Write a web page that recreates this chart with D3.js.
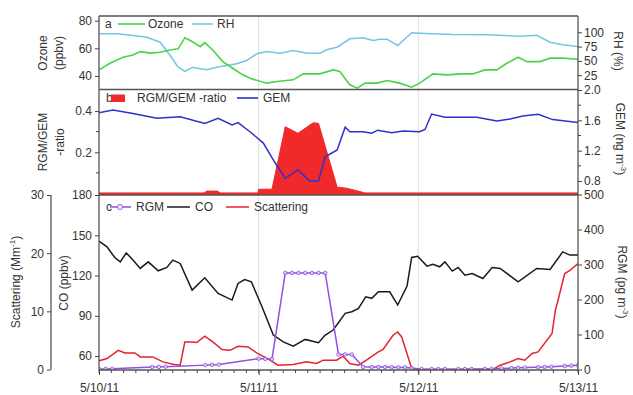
<!DOCTYPE html>
<html>
<head>
<meta charset="utf-8">
<script src="https://cdn.jsdelivr.net/npm/d3@7"></script>
<style>
  html, body { margin: 0; padding: 0; background: #fff; }
  svg { display: block; font-family: Arial, "Liberation Sans", sans-serif; }
  .tick text { fill: #333; font-size: 12px; }
  .tick line { stroke: #444; }
</style>
</head>
<body>
<svg id="chart" width="633" height="395"></svg>
<script>
// Hours after 5/10/11 00:00 and the measured values for each series.
const dayLabels = ["5/10/11", "5/11/11", "5/12/11", "5/13/11"];

const ozoneHours = [0,1.65,3.6,5.1,6.2,7.7,9.2,10.7,11.9,12.9,14.0,15.2,15.9,17.1,18.6,20.1,21.6,23.1,25.2,26.8,29.2,30.7,33.2,35.2,36.2,37.7,38.8,40.0,41.8,43.3,45.2,47.0,48.2,50.2,52.3,54.3,56.2,58.0,59.8,61.3,63.0,64.3,66.3,67.8,69.7,72];
const ozone = [44.4,49.2,53.6,55.2,57.6,56.5,57.2,58.8,59.6,67.7,64.9,61.2,64.1,58.8,50.4,45.6,40.8,37.7,34.8,36.0,37.2,41.5,41.5,44.4,43.2,33.6,31.2,34.8,34.8,36.7,34.8,31.9,34.8,41.5,40.8,41.5,41.5,44.4,44.4,49.2,53.6,50.4,50.4,52.9,52.9,52.1];

const rhHours = [0,2.7,5.1,7.2,9.2,10.7,11.9,12.9,14.1,15.2,16.2,17.7,19.2,20.7,22.2,23.7,25.2,27.2,29.2,31.3,33.2,34.3,35.8,37.7,39.7,41.2,42.2,43.3,44.9,47.0,48.2,53.2,58.3,63.3,65.8,67.8,69.7,72];
const rh = [97.3,97.3,94.4,91.4,82.7,59.4,39.0,31.5,39.0,36.2,34.4,39.0,42.0,44.9,50.7,62.4,66.4,63.5,68.2,63.5,63.5,69.9,73.9,88.6,90.4,85.7,87.9,87.9,76.9,99.1,98.5,96.1,95.6,93.2,94.9,82.7,78.1,75.2];

const ratioHours = [0,15.8,16.2,17.8,18.2,23.9,24.0,26.0,28.0,29.9,32.2,33.0,35.8,37.2,38.7,40.0,72];
const ratio = [0.003,0.003,0.012,0.012,0.003,0.003,0.021,0.021,0.324,0.292,0.343,0.340,0.031,0.026,0.014,0.003,0.003];

const gemHours = [0,2.1,5.1,8.7,12.2,15.9,17.9,20.0,20.9,22.7,24.7,26.4,28.0,29.9,31.7,33.0,34.0,35.8,37.0,37.7,39.7,41.0,41.9,44.0,45.7,48.2,49.0,50.0,52.0,56.8,59.8,61.8,63.7,66.0,68.2,72];
const gem = [1.70,1.736,1.69,1.627,1.648,1.56,1.627,1.54,1.57,1.45,1.30,1.05,0.835,0.945,0.80,0.80,1.12,1.21,1.51,1.45,1.45,1.43,1.47,1.437,1.459,1.45,1.48,1.683,1.64,1.64,1.59,1.617,1.657,1.68,1.61,1.57];

const coHours = [0,1.2,2.4,3.2,4.1,5.1,6.2,7.4,8.9,10.2,11.1,12.2,14.0,15.9,17.9,20.0,20.9,21.9,22.9,24.5,26.2,27.7,29.2,31.0,33.0,34.0,35.2,37.0,38.0,39.0,40.1,41.0,42.0,43.7,44.9,46.3,47.0,47.9,49.3,50.2,51.2,52.0,53.1,54.0,55.0,56.1,57.7,59.1,60.3,63.0,65.8,67.8,69.7,70.8,72];
const co = [145.6,141.4,133.2,130.2,136.9,131.5,125.3,130.2,123.5,126.0,131.5,129.0,109.1,118.3,106.7,101.7,114.1,117.0,115.3,96.7,75.6,70.6,67.4,72.4,69.9,75.6,79.4,91.8,93.0,95.5,104.1,103.0,107.9,107.9,98.0,112.1,133.5,134.4,127.0,128.3,126.5,130.2,123.3,126.0,120.3,121.5,117.8,126.0,125.3,115.3,125.3,124.5,137.6,135.2,135.2];

const scatHours = [0,1.2,2.9,3.9,5.4,6.2,8.1,9.6,11.1,12.2,12.9,14.0,14.7,15.9,17.1,18.5,19.7,20.9,22.4,23.7,25.7,26.9,29.2,31.2,32.7,33.7,35.7,36.7,37.7,39.0,40.2,42.0,42.7,44.2,44.9,45.5,47.0,48.2,53.0,59.2,60.3,61.8,63.0,64.0,65.1,66.0,68.1,68.6,69.0,70.0,70.8,72];
const scattering = [1.48,1.89,3.3,2.85,2.85,2.16,2.16,1.31,0.91,0.74,4.74,4.74,4.64,5.72,4.74,3.44,3.3,4.0,3.88,2.85,1.6,0.74,0.86,1.31,1.03,1.6,1.6,2.29,1.03,0.74,1.6,3.02,3.44,5.89,6.46,5.6,0.17,0.0,0.0,0.0,0.74,1.31,1.89,1.6,2.75,3.02,6.18,10.2,11.9,16.5,17.06,18.2];

const rgmHours = [0,1,2,8,9,10,16,17,18,24,25,26,28,29,30,31,32,33,34,36,37,38,39.7,41,42,43,44,45,46,47,48.5,50,51,52,54,55,56,58,59,60.5,62,63,64,66,67,68,70,71,72];
const rgm = [1,1.5,2,7,7.5,8,12.5,13.5,14,31,30.5,29.5,276,276,276,276,276,276,276,43,43,43,7.5,7,7,7,6.5,6,6,4,1,1,1,1,1,1,1.5,1.5,2,3,4,5,5.5,6.5,7,8,10,11,12];

// ---------------------------------------------------------------------------
const svg = d3.select("#chart");
const left = 99, right = 578;
const pa = [89.5, 16], pb = [195, 89.5], pc = [370, 195];

const start = new Date(2011, 4, 10);
const T = h => new Date(start.getTime() + h * 3600e3);
const pts = (hs, vs) => hs.map((h, i) => [T(h), vs[i]]);

const x = d3.scaleTime().domain([start, T(72)]).range([left, right]);

const yOzone = d3.scaleLinear().domain([30.2, 83.4]).range(pa);
const yRH = d3.scaleLinear().domain([0, 128.5]).range(pa);
const yRatio = d3.scaleLinear().domain([-0.007, 0.504]).range(pb);
const yGEM = d3.scaleLinear().domain([0.615, 2.007]).range(pb);
const yCO = d3.scaleLinear().domain([49.6, 180]).range(pc);
const yScat = d3.scaleLinear().domain([0, 30]).range([369.5, 195]);
const yRGM = d3.scaleLinear().domain([0, 500]).range([369.5, 194.5]);

const C = {
  ozone: "#48d448", rh: "#72c6e6", ratio: "#f02a2a", gem: "#3030c8",
  co: "#1a1a1a", scat: "#e4232e", rgm: "#9050e0", frame: "#555"
};

// clip paths per panel
const defs = svg.append("defs");
[["clipA", pa], ["clipB", pb], ["clipC", pc]].forEach(([id, r]) => {
  defs.append("clipPath").attr("id", id).append("rect")
    .attr("x", left).attr("y", r[1]).attr("width", right - left).attr("height", r[0] - r[1]);
});

// day gridlines
const days = [0, 24, 48, 72].map(T);
svg.append("g").selectAll("line").data(days.slice(1, 3)).join("line")
  .attr("x1", d => x(d)).attr("x2", d => x(d)).attr("y1", 16).attr("y2", 370)
  .attr("stroke", "#dcdcdc").attr("stroke-width", 1);

function line(sx, sy) {
  return d3.line().x(d => sx(d[0])).y(d => sy(d[1]));
}

// Panel a: ozone and relative humidity
const gA = svg.append("g").attr("clip-path", "url(#clipA)");
gA.append("path").datum(pts(rhHours, rh)).attr("d", line(x, yRH))
  .attr("fill", "none").attr("stroke", C.rh).attr("stroke-width", 1.5);
gA.append("path").datum(pts(ozoneHours, ozone)).attr("d", line(x, yOzone))
  .attr("fill", "none").attr("stroke", C.ozone).attr("stroke-width", 1.6);

// Panel b: RGM/GEM ratio area and GEM
const gB = svg.append("g").attr("clip-path", "url(#clipB)");
gB.append("path").datum(pts(ratioHours, ratio))
  .attr("d", d3.area().x(d => x(d[0])).y0(pb[0]).y1(d => yRatio(d[1])))
  .attr("fill", C.ratio).attr("stroke", C.ratio).attr("stroke-width", 1);
gB.append("path").datum(pts(gemHours, gem)).attr("d", line(x, yGEM))
  .attr("fill", "none").attr("stroke", C.gem).attr("stroke-width", 1.5);

// Panel c: CO, scattering, RGM
const gC = svg.append("g").attr("clip-path", "url(#clipC)");
gC.append("path").datum(pts(coHours, co)).attr("d", line(x, yCO))
  .attr("fill", "none").attr("stroke", C.co).attr("stroke-width", 1.5);
gC.append("path").datum(pts(scatHours, scattering)).attr("d", line(x, yScat))
  .attr("fill", "none").attr("stroke", C.scat).attr("stroke-width", 1.5);
const rgmPts = pts(rgmHours, rgm);
gC.append("path").datum(rgmPts).attr("d", line(x, yRGM))
  .attr("fill", "none").attr("stroke", C.rgm).attr("stroke-width", 1.5);
gC.append("g").selectAll("circle").data(rgmPts).join("circle")
  .attr("cx", d => x(d[0])).attr("cy", d => yRGM(d[1])).attr("r", 1.8)
  .attr("fill", "#fff").attr("fill-opacity", 0.6).attr("stroke", C.rgm).attr("stroke-width", 0.9);

// frame and panel separators
const frame = svg.append("g").attr("stroke", C.frame).attr("stroke-width", 1.3);
[16, 89.5, 195, 370].forEach(y => frame.append("line")
  .attr("x1", left).attr("x2", right).attr("y1", y).attr("y2", y));
[left, right].forEach(xx => frame.append("line")
  .attr("x1", xx).attr("x2", xx).attr("y1", 16).attr("y2", 370));

function styleAxis(g) {
  g.select(".domain").remove();
  g.selectAll(".tick line").attr("stroke", "#444");
  g.selectAll(".tick text").attr("fill", "#333").style("font-size", "12px");
}
function minorTicks(g, scale, values, side, xx, len) {
  g.append("g").selectAll("line").data(values).join("line")
    .attr("x1", xx).attr("x2", xx + (side === "left" ? -len : len))
    .attr("y1", d => scale(d)).attr("y2", d => scale(d))
    .attr("stroke", "#444");
}

// left axes
svg.append("g").attr("transform", `translate(${left},0)`)
  .call(d3.axisLeft(yOzone).tickValues([40, 60, 80]).tickSize(4).tickPadding(3)).call(styleAxis);
svg.append("g").attr("transform", `translate(${left},0)`)
  .call(d3.axisLeft(yRatio).tickValues([0.2, 0.4]).tickFormat(d3.format(".1f")).tickSize(4).tickPadding(3)).call(styleAxis);
minorTicks(svg, yRatio, [0.1, 0.3], "left", left, 3);
svg.append("g").attr("transform", `translate(${left},0)`)
  .call(d3.axisLeft(yCO).tickValues([60, 90, 120, 150, 180]).tickSize(4).tickPadding(3)).call(styleAxis);

// outer scattering axis
const gS = svg.append("g").attr("transform", "translate(51,0)")
  .call(d3.axisLeft(yScat).tickValues([0, 10, 20, 30]).tickSize(4).tickPadding(3)).call(styleAxis);
gS.append("line").attr("x1", 0).attr("x2", 0).attr("y1", yScat(0)).attr("y2", yScat(30))
  .attr("stroke", C.frame).attr("stroke-width", 1.3);

// right axes
svg.append("g").attr("transform", `translate(${right},0)`)
  .call(d3.axisRight(yRH).tickValues([25, 50, 75, 100]).tickSize(4).tickPadding(2)).call(styleAxis);
svg.append("g").attr("transform", `translate(${right},0)`)
  .call(d3.axisRight(yGEM).tickValues([0.8, 1.2, 1.6, 2.0]).tickFormat(d3.format(".1f")).tickSize(4).tickPadding(2)).call(styleAxis);
minorTicks(svg, yGEM, [1.0, 1.4, 1.8], "right", right, 3);
svg.append("g").attr("transform", `translate(${right},0)`)
  .call(d3.axisRight(yRGM).tickValues([0, 100, 200, 300, 400, 500]).tickSize(4).tickPadding(2)).call(styleAxis);

// x axis
const xAxis = svg.append("g").attr("transform", "translate(0,370)")
  .call(d3.axisBottom(x).tickValues(days).tickFormat((d, i) => dayLabels[i]).tickSize(5).tickPadding(8))
  .call(styleAxis);
xAxis.append("g").selectAll("line").data(d3.range(0, 72.001, 24 / 13).map(T)).join("line")
  .attr("x1", d => x(d)).attr("x2", d => x(d)).attr("y1", 0).attr("y2", 3).attr("stroke", "#444");

// axis titles
function vTitle(xx, yy, rot, lines) {
  const t = svg.append("text").attr("transform", `translate(${xx},${yy}) rotate(${rot})`)
    .attr("text-anchor", "middle").attr("fill", "#333").style("font-size", "12px");
  return t;
}
vTitle(47, 53, -90).text("Ozone");
vTitle(63, 53, -90).text("(ppbv)");
vTitle(47, 142, -90).text("RGM/GEM");
vTitle(64, 142, -90).text("-ratio");
const st = vTitle(20, 282, -90);
st.append("tspan").text("Scattering (Mm");
st.append("tspan").attr("dy", -5).style("font-size", "8px").text("-1");
st.append("tspan").attr("dy", 5).text(")");
vTitle(68, 283, -90).text("CO (ppbv)");
vTitle(614, 51, 90).text("RH (%)");
const gt = vTitle(616, 139, 90);
gt.append("tspan").text("GEM (ng m");
gt.append("tspan").attr("dy", -5).style("font-size", "8px").text("-3");
gt.append("tspan").attr("dy", 5).text(")");
const rt = vTitle(618, 282, 90);
rt.append("tspan").text("RGM (pg m");
rt.append("tspan").attr("dy", -5).style("font-size", "8px").text("-3");
rt.append("tspan").attr("dy", 5).text(")");

// legends
const lg = svg.append("g").style("font-size", "12px").attr("fill", "#333");
// panel a
lg.append("text").attr("x", 105).attr("y", 28).text("a");
lg.append("line").attr("x1", 118).attr("x2", 145).attr("y1", 24).attr("y2", 24).attr("stroke", C.ozone).attr("stroke-width", 1.6);
lg.append("text").attr("x", 148).attr("y", 28).text("Ozone");
lg.append("line").attr("x1", 192).attr("x2", 213).attr("y1", 24).attr("y2", 24).attr("stroke", C.rh).attr("stroke-width", 1.5);
lg.append("text").attr("x", 217).attr("y", 28).text("RH");
// panel b
lg.append("text").attr("x", 106).attr("y", 102).text("b");
lg.append("rect").attr("x", 111).attr("y", 94.5).attr("width", 14).attr("height", 7.5).attr("fill", C.ratio);
lg.append("text").attr("x", 137).attr("y", 102).text("RGM/GEM -ratio");
lg.append("line").attr("x1", 237).attr("x2", 258).attr("y1", 98).attr("y2", 98).attr("stroke", C.gem).attr("stroke-width", 1.6);
lg.append("text").attr("x", 263).attr("y", 102).text("GEM");
// panel c
lg.append("text").attr("x", 106).attr("y", 211).text("c");
lg.append("line").attr("x1", 110).attr("x2", 131).attr("y1", 207).attr("y2", 207).attr("stroke", C.rgm).attr("stroke-width", 1.5);
lg.append("circle").attr("cx", 120).attr("cy", 207).attr("r", 2.5).attr("fill", "#fff").attr("stroke", C.rgm).attr("stroke-width", 1);
lg.append("text").attr("x", 136).attr("y", 211).text("RGM");
lg.append("line").attr("x1", 167).attr("x2", 190).attr("y1", 207).attr("y2", 207).attr("stroke", C.co).attr("stroke-width", 1.5);
lg.append("text").attr("x", 195).attr("y", 211).text("CO");
lg.append("line").attr("x1", 226).attr("x2", 249).attr("y1", 207).attr("y2", 207).attr("stroke", C.scat).attr("stroke-width", 1.5);
lg.append("text").attr("x", 254).attr("y", 211).text("Scattering");
</script>
</body>
</html>
